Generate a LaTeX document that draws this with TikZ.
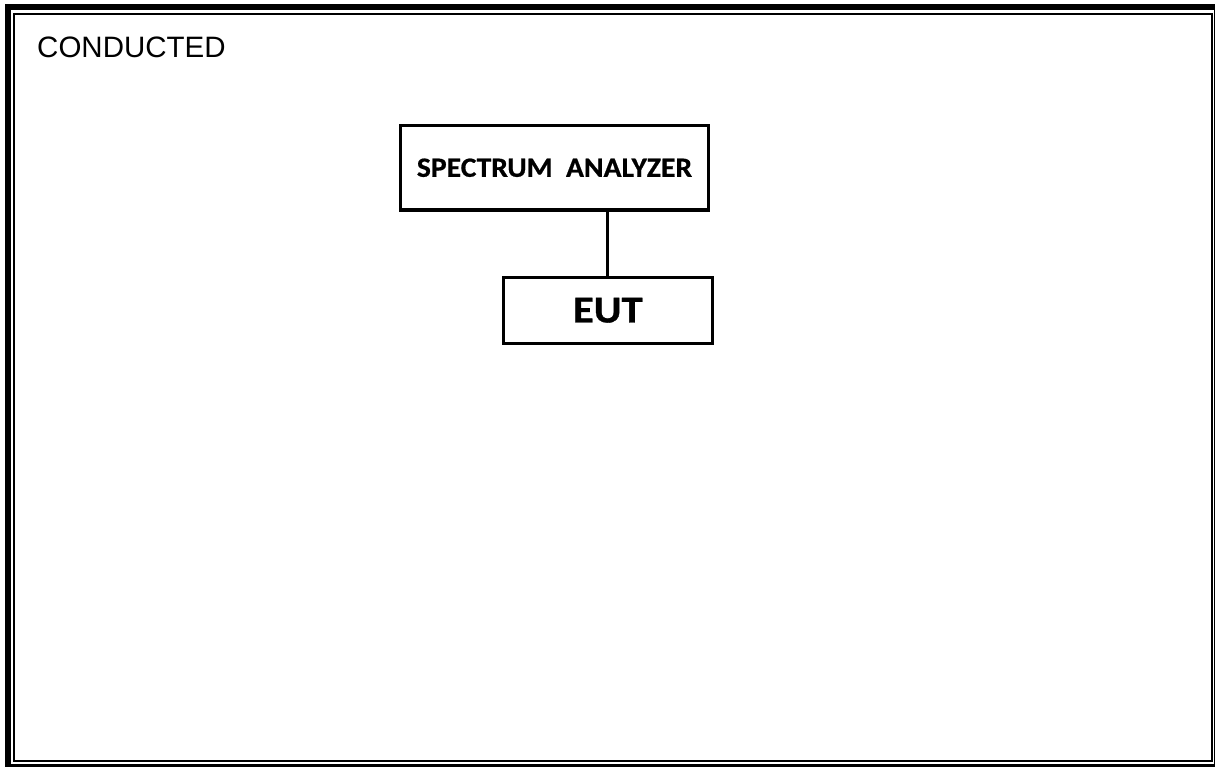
\documentclass[tikz,border=0pt]{standalone}
\usepackage{fontspec}
\setmainfont{Liberation Sans}
\newfontfamily\labelfont[FakeStretch=1.06,FakeBold=0.6]{Carlito}
\newfontfamily\eutfont[FakeStretch=1.12,FakeBold=0.8]{Carlito}
\begin{document}
\begin{tikzpicture}[x=1pt,y=-1pt,
  unitbox/.style={draw=black,line width=3.2pt,rectangle,inner sep=0pt,align=center}]
\useasboundingbox (0,0) rectangle (1215,767);
% page frame: heavy outer line and thin inner line
\draw[line width=6pt] (7.5,7.5) rectangle (1216.5,766.5);
\draw[line width=2pt] (14,14) rectangle (1212,761);
% title
\node[anchor=base west,inner sep=0pt,font=\fontsize{29.5}{31}\selectfont] (title) at (37,57.5) {CONDUCTED};
% equipment
\node[unitbox,minimum width=308pt,minimum height=84.5pt,font=\labelfont\bfseries\fontsize{28}{30}\selectfont] (sa) at (554.5,167.75) {SPECTRUM\ \ ANALYZER};
\node[unitbox,minimum width=209pt,minimum height=66pt,font=\eutfont\bfseries\fontsize{38}{40}\selectfont] (eut) at (607.8,310.3) {EUT};
\draw[line width=3.2pt] (sa.south -| eut.north) -- (eut.north);
\end{tikzpicture}
\end{document}
